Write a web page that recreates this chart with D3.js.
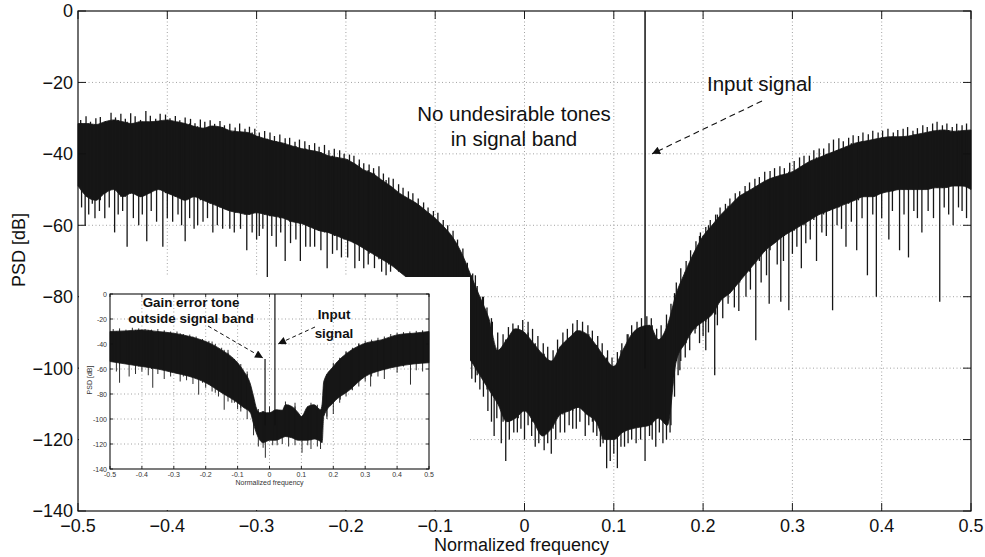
<!DOCTYPE html>
<html lang="en">
<head>
<meta charset="UTF-8" />
<title>PSD</title>
<script src="https://cdn.jsdelivr.net/npm/d3@7/dist/d3.min.js"></script>
<style>
  body { margin: 0; background: #fff; }
  svg { display: block; font-family: "Liberation Sans", Arial, Helvetica, sans-serif; }
  .grid line { stroke: #8a8a8a; stroke-width: 0.8; stroke-dasharray: 1 2.5; }
</style>
</head>
<body>
<script>
// ---- main chart data (dB), frequency step 0.01 from -0.5 to 0.5
var freqStep = 0.01;
var upperDb = [
  -31.5,-31.5,-31.8,-31.0,-30.5,-31.0,-31.5,-31.0,-31.0,-30.8,
  -30.5,-31.0,-31.5,-32.3,-32.8,-32.2,-32.5,-33.5,-33.8,-34.0,
  -35.0,-35.8,-36.5,-37.0,-37.8,-38.5,-39.0,-39.5,-40.5,-41.0,
  -41.5,-42.8,-44.5,-45.5,-47.3,-49.0,-51.0,-52.5,-54.0,-56.0,
  -58.0,-60.5,-63.5,-68.0,-74.0,-80.0,-86.0,-95.0,-92.0,-89.0,
  -90.0,-93.0,-96.0,-98.0,-94.0,-91.5,-89.5,-90.5,-93.5,-97.0,
  -99.5,-95.0,-90.5,-88.5,-88.0,-92.0,-88.0,-79.0,-73.0,-67.5,
  -63.0,-60.0,-57.0,-54.5,-52.0,-50.5,-49.0,-47.5,-46.5,-45.8,
  -45.0,-43.5,-42.0,-41.0,-40.0,-39.0,-38.0,-37.0,-36.5,-36.0,
  -35.5,-35.2,-35.2,-35.0,-34.5,-34.0,-33.5,-33.3,-33.7,-33.5,
  -33.3
];
var lowerDb = [
  -49,-52,-53,-51,-50,-52,-51,-52,-51,-50,
  -51,-52,-53,-52,-53,-54,-55,-56,-56.5,-57,
  -56.5,-57,-57.5,-58,-59,-59.5,-60.5,-61.5,-62,-63,
  -64,-65,-66.5,-68,-69.5,-71,-73,-75,-77,-79,
  -81,-84,-87,-95,-98,-102,-106,-110,-115,-114,
  -112,-115,-119,-117,-113,-112,-111,-113,-115,-120,
  -120,-118,-117,-116.5,-116,-114,-116,-98,-93,-89,
  -87,-85,-81,-79,-76,-73,-70,-67,-65,-63,
  -61.5,-60,-58.5,-57,-56,-55,-54,-53,-52,-52,
  -51,-50.5,-50,-50,-50,-50,-49.5,-49.5,-49,-49,
  -50
];
// downward spikes below the dense band [freq, dB]
var downSpikes = [
  [-0.496,-55],[-0.492,-60],[-0.488,-57],[-0.484,-54],[-0.481,-58],[-0.476,-56],[-0.470,-58],
  [-0.465,-55],[-0.459,-62],[-0.455,-57],[-0.450,-56],[-0.445,-66],[-0.438,-58],[-0.432,-60],
  [-0.428,-57],[-0.423,-64.5],[-0.418,-56],[-0.412,-59],[-0.405,-66],[-0.400,-58],[-0.394,-59],
  [-0.388,-57],[-0.384,-60],[-0.380,-64.5],[-0.375,-58],[-0.370,-61],[-0.366,-60],[-0.360,-59],
  [-0.355,-58],[-0.349,-62],[-0.344,-60],[-0.338,-61],[-0.330,-61],[-0.325,-62],[-0.318,-61],
  [-0.311,-67],[-0.305,-62],[-0.300,-64],[-0.297,-63],[-0.293,-61],[-0.288,-74.5],[-0.283,-63],
  [-0.278,-66],[-0.273,-62],[-0.268,-70],[-0.262,-65],[-0.256,-64],[-0.251,-70],[-0.245,-66],
  [-0.240,-66],[-0.235,-66],[-0.228,-67],[-0.221,-72],[-0.215,-68],[-0.210,-67],[-0.205,-69],
  [-0.198,-69],[-0.190,-72],[-0.185,-70],[-0.180,-72],[-0.175,-71],[-0.168,-72],[-0.160,-73],
  [-0.155,-74],[-0.150,-73],
  [-0.063,-106],[-0.059,-103],[-0.055,-104],[-0.050,-106],[-0.046,-108],[-0.041,-112],
  [-0.037,-115],[-0.034,-119],[-0.031,-114],[-0.026,-121],[-0.021,-126],[-0.017,-120],
  [-0.012,-118],[-0.008,-118],[-0.004,-117],[0.0,-120],[0.004,-116],[0.008,-119],[0.012,-122],
  [0.016,-121],[0.022,-123],[0.026,-121],[0.030,-124],[0.035,-120],[0.040,-118],[0.045,-118],
  [0.050,-116],[0.054,-117],[0.058,-117],[0.062,-115],[0.068,-119],[0.072,-116],[0.077,-118],
  [0.081,-119],[0.085,-122],[0.088,-121],[0.092,-128],[0.096,-126],[0.100,-124],[0.104,-128],
  [0.108,-122],[0.112,-122],[0.116,-121],[0.120,-120],[0.125,-121],[0.130,-120],[0.135,-126],
  [0.140,-119],[0.143,-120],[0.147,-122],[0.151,-118],[0.155,-121],[0.159,-120],[0.163,-118],
  [0.168,-108],[0.172,-102],[0.174,-100.6],[0.180,-97],[0.185,-95],[0.191,-90.3],[0.196,-93],
  [0.200,-91],[0.203,-95],[0.206,-90],[0.213,-102],[0.216,-88],[0.222,-86],[0.228,-82],
  [0.235,-83],[0.240,-84],[0.248,-80],[0.253,-78],[0.259,-92.2],[0.265,-76],[0.271,-74],
  [0.274,-82],[0.283,-71],[0.287,-81.4],[0.290,-70],[0.296,-83.8],[0.300,-68],[0.305,-66],
  [0.310,-72],[0.315,-65],[0.320,-64],[0.327,-70],[0.333,-62],[0.338,-63],[0.345,-83.8],
  [0.350,-60],[0.355,-61],[0.360,-66],[0.366,-59],[0.372,-67],[0.378,-58],[0.384,-74],
  [0.390,-57],[0.394,-80],[0.400,-58],[0.408,-64],[0.412,-56],[0.420,-67],[0.425,-57],
  [0.430,-69],[0.436,-56],[0.440,-58],[0.445,-62],[0.452,-56],[0.458,-58],[0.465,-81.4],
  [0.470,-55],[0.475,-57],[0.480,-60],[0.486,-55],[0.490,-56],[0.495,-58]
];
// peaks above the dense band [freq, dB]
var upSpikes = [
  [-0.497,-30.5],[-0.491,-29.5],[-0.486,-31],[-0.480,-30],[-0.475,-29.7],[-0.469,-30.8],
  [-0.463,-28.5],[-0.458,-29.8],[-0.452,-28.8],[-0.447,-30.2],[-0.441,-28.6],[-0.436,-29.5],
  [-0.430,-30.5],[-0.424,-28.0],[-0.419,-29.3],[-0.413,-30.2],[-0.408,-28.8],[-0.402,-29.0],
  [-0.397,-30.0],[-0.391,-29.4],[-0.386,-30.6],[-0.380,-29.8],[-0.374,-30.2],[-0.369,-31.4],
  [-0.363,-30.4],[-0.358,-31.0],[-0.352,-30.6],[-0.347,-31.6],[-0.341,-30.8],[-0.336,-32.0],
  [-0.330,-31.6],[-0.324,-32.6],[-0.319,-31.5],[-0.313,-33.0],[-0.308,-32.4],[-0.302,-33.0],
  [-0.297,-34.0],[-0.291,-33.6],[-0.285,-34.0],[-0.280,-35.0],[-0.274,-34.6],[-0.268,-35.6],
  [-0.263,-35.5],[-0.257,-36.6],[-0.252,-36.0],[-0.246,-36.5],[-0.241,-37.5],[-0.235,-37.0],
  [-0.230,-38.0],[-0.224,-37.5],[-0.219,-39.0],[-0.213,-38.6],[-0.207,-39.0],[-0.202,-40.0],
  [-0.196,-40.2],[-0.191,-40.5],[-0.185,-41.6],[-0.180,-42.6],[-0.174,-43.0],[-0.169,-44.0],
  [-0.163,-43.5],[-0.158,-45.5],[-0.152,-46.6],[-0.147,-47.0],[-0.141,-48.5],[-0.136,-49.5],
  [-0.130,-50.5],[-0.125,-51.0],[-0.119,-52.5],[-0.113,-53.6],[-0.108,-55.0],[-0.102,-56.0],
  [-0.097,-56.5],[-0.091,-58.5],[-0.086,-60.0],[-0.080,-61.5],[-0.075,-64.0],[-0.069,-66.5],
  [-0.064,-70.5],[-0.058,-73.5],[-0.053,-77.0],[-0.047,-80.0],[-0.042,-83.0],
  [-0.036,-87],[-0.030,-90],[-0.024,-90.5],[-0.018,-88.5],[-0.013,-87.5],[-0.007,-88],
  [-0.002,-86.5],[0.004,-87],[0.009,-89],[0.015,-91],[0.021,-93],[0.026,-94],[0.032,-95],
  [0.037,-92],[0.043,-90],[0.048,-89],[0.054,-87.5],[0.059,-86.5],[0.065,-87],[0.071,-88],
  [0.076,-89.5],[0.082,-91],[0.087,-93],[0.093,-95],[0.098,-97],[0.104,-95.5],[0.109,-93],
  [0.115,-90.5],[0.120,-88],[0.126,-87],[0.131,-86],[0.137,-85.5],[0.142,-86],[0.148,-89],
  [0.153,-88],[0.159,-85],[0.164,-82],
  [0.170,-76],[0.175,-72],[0.181,-70],[0.186,-67],[0.192,-64.5],[0.197,-62],[0.203,-60.5],
  [0.208,-58.5],[0.214,-57],[0.219,-55],[0.225,-54],[0.230,-52.5],[0.236,-51],[0.241,-50.5],
  [0.247,-49],[0.252,-48],[0.258,-47],[0.263,-46.5],[0.269,-45],[0.275,-44.8],[0.280,-44],
  [0.286,-43.5],[0.291,-44],[0.297,-42.5],[0.302,-42],[0.308,-41],[0.313,-40.5],[0.319,-40.5],
  [0.324,-39],[0.330,-38.5],[0.335,-38.5],[0.341,-37],[0.346,-36],[0.352,-35.6],[0.357,-36.5],
  [0.363,-35.5],[0.368,-34.8],[0.374,-35],[0.379,-34],[0.385,-34.5],[0.390,-33.5],[0.396,-34],
  [0.401,-33.5],[0.407,-33],[0.413,-34],[0.418,-33.3],[0.424,-33],[0.429,-32.5],[0.435,-33.5],
  [0.440,-32.8],[0.446,-32],[0.451,-32.5],[0.457,-31.5],[0.462,-31],[0.468,-32],[0.473,-31.5],
  [0.479,-32.5],[0.484,-31.6],[0.490,-32],[0.495,-31.5]
];
var inputTone = { f: 0.135, top: 0, bottom: -100 };

var xTicks = [-0.5,-0.4,-0.3,-0.2,-0.1,0,0.1,0.2,0.3,0.4,0.5];
var xTickLabels = ["\u22120.5","\u22120.4","\u22120.3","\u22120.2","\u22120.1","0","0.1","0.2","0.3","0.4","0.5"];
var yTicks = [0,-20,-40,-60,-80,-100,-120,-140];
var yTickLabels = ["0","\u221220","\u221240","\u221260","\u221280","\u2212100","\u2212120","\u2212140"];

// ---- inset data
var insetFreq  = [-0.5,-0.45,-0.4,-0.35,-0.3,-0.25,-0.2,-0.15,-0.1,-0.08,-0.06,-0.05,-0.04,-0.03,-0.02,-0.01,0,0.02,0.04,0.05,0.07,0.09,0.1,0.12,0.14,0.16,0.165,0.17,0.2,0.25,0.3,0.35,0.4,0.45,0.5];
var insetUpper = [-30,-29.5,-28.7,-30,-31.4,-34,-38,-44.7,-55,-62,-72,-82,-92,-95,-94,-95,-95,-92.6,-93,-88.6,-90,-95,-98,-90,-88.6,-92.6,-88,-70,-58,-46,-39.4,-36.7,-32.7,-31.4,-30];
var insetLower = [-54,-56,-58,-60,-63,-66,-71,-79,-87,-91,-95,-104,-112,-117,-119,-118,-117,-117,-115,-114,-115,-117,-117,-117,-116,-118,-119,-98,-87,-77,-66,-61,-58,-56,-55];
var insetDown = [
  [-0.48,-62],[-0.47,-71],[-0.44,-66],[-0.42,-64],[-0.40,-62],[-0.38,-65],[-0.366,-75],
  [-0.35,-64],[-0.33,-68],[-0.31,-66],[-0.28,-70],[-0.26,-69],[-0.24,-72],[-0.222,-80.5],
  [-0.20,-75],[-0.18,-78],[-0.16,-82],[-0.142,-92.6],[-0.13,-86],[-0.118,-87],[-0.10,-92],
  [-0.09,-94],[-0.07,-100],[-0.05,-113],[-0.035,-122],[-0.02,-123],[-0.013,-131],[0.01,-121],
  [0.024,-121],[0.04,-120],[0.06,-122],[0.08,-121],[0.102,-127],[0.12,-121],[0.13,-124],
  [0.15,-122],[0.16,-124],[0.18,-100],[0.20,-96],[0.222,-84.5],[0.24,-82],[0.256,-76.5],
  [0.28,-74],[0.30,-70],[0.317,-74],[0.34,-66],[0.36,-68],[0.40,-63],[0.442,-72.5],
  [0.46,-61],[0.48,-62]
];
var insetUp = [
  [-0.49,-28],[-0.47,-27.5],[-0.45,-28.5],[-0.43,-27],[-0.41,-27.5],[-0.39,-28],[-0.37,-28.5],
  [-0.35,-28],[-0.33,-29],[-0.31,-30],[-0.29,-30],[-0.27,-32],[-0.25,-32.5],[-0.23,-34],
  [-0.21,-36],[-0.19,-37.5],[-0.17,-40],[-0.15,-43],[-0.13,-47],[-0.11,-52],[-0.09,-56],
  [-0.07,-64],[0.0,-90],[0.05,-86],[0.08,-87],[0.13,-87],[0.18,-64],[0.20,-55],[0.22,-51],
  [0.24,-46],[0.26,-43],[0.28,-40],[0.30,-37.5],[0.32,-36.5],[0.34,-35],[0.36,-34],
  [0.38,-32],[0.40,-31],[0.42,-30.5],[0.44,-30],[0.46,-29.5],[0.48,-29]
];
var insetGainTone = { f: -0.014, top: -52, bottom: -105 };
var insetInputTone = { f: 0.017, top: 0, bottom: -105 };
var insetYTickLabels = ["0","-20","-40","-60","-80","-100","-120","-140"];
var insetXTickLabels = ["-0.5","-0.4","-0.3","-0.2","-0.1","0","0.1","0.2","0.3","0.4","0.5"];

var w = 985, h = 557;
var svg = d3.select("body").append("svg").attr("width", w).attr("height", h);

var defs = svg.append("defs");
defs.append("marker").attr("id", "arr").attr("viewBox", "0 0 10 10")
  .attr("refX", 10).attr("refY", 5).attr("markerWidth", 11).attr("markerHeight", 8)
  .attr("markerUnits", "userSpaceOnUse").attr("orient", "auto")
  .append("path").attr("d", "M0,0 L10,5 L0,10 z").attr("fill", "#111");
defs.append("marker").attr("id", "arrs").attr("viewBox", "0 0 10 10")
  .attr("refX", 10).attr("refY", 5).attr("markerWidth", 10).attr("markerHeight", 8)
  .attr("markerUnits", "userSpaceOnUse").attr("orient", "auto")
  .append("path").attr("d", "M0,0 L10,5 L0,10 z").attr("fill", "#111");

var ink = "#161616";

function drawPanel(g, o) {
  var x = d3.scaleLinear().domain([-0.5, 0.5]).range([o.left, o.right]);
  var y = d3.scaleLinear().domain([-140, 0]).range([o.bottom, o.top]);

  // grid
  var grid = g.append("g").attr("class", "grid");
  grid.selectAll("line.gx").data(xTicks.slice(1, -1)).enter().append("line")
    .attr("x1", function(d) { return x(d); }).attr("x2", function(d) { return x(d); })
    .attr("y1", o.top).attr("y2", o.bottom);
  grid.selectAll("line.gy").data(yTicks.slice(1, -1)).enter().append("line")
    .attr("x1", o.left).attr("x2", o.right)
    .attr("y1", function(d) { return y(d); }).attr("y2", function(d) { return y(d); });

  // dense band
  var band = o.freqs.map(function(f, i) { return { f: f, hi: o.upper[i], lo: o.lower[i] }; });
  g.append("path").datum(band)
    .attr("fill", ink).attr("stroke", ink).attr("stroke-width", 0.8)
    .attr("d", d3.area().curve(d3.curveMonotoneX).x(function(d) { return x(d.f); })
      .y0(function(d) { return y(d.lo); }).y1(function(d) { return y(d.hi); }));

  function nearest(f, arr) {
    var best = 0;
    o.freqs.forEach(function(v, i) { if (Math.abs(v - f) < Math.abs(o.freqs[best] - f)) best = i; });
    return arr[best];
  }
  g.selectAll("line.dn").data(o.down).enter().append("line")
    .attr("stroke", ink).attr("stroke-width", o.sw)
    .attr("x1", function(d) { return x(d[0]); }).attr("x2", function(d) { return x(d[0]); })
    .attr("y1", function(d) { return y(d[1]); })
    .attr("y2", function(d) { return y(nearest(d[0], o.upper)); });
  g.selectAll("line.up").data(o.up).enter().append("line")
    .attr("stroke", ink).attr("stroke-width", o.sw)
    .attr("x1", function(d) { return x(d[0]); }).attr("x2", function(d) { return x(d[0]); })
    .attr("y1", function(d) { return y(d[1]); })
    .attr("y2", function(d) { return y(nearest(d[0], o.lower)); });

  // tones
  o.tones.forEach(function(t) {
    g.append("line").attr("stroke", "#111").attr("stroke-width", o.toneW)
      .attr("x1", x(t.f)).attr("x2", x(t.f)).attr("y1", y(t.top)).attr("y2", y(t.bottom));
  });

  // box and inward ticks
  g.append("rect").attr("x", o.left).attr("y", o.top)
    .attr("width", o.right - o.left).attr("height", o.bottom - o.top)
    .attr("fill", "none").attr("stroke", "#111").attr("stroke-width", o.boxW);
  xTicks.forEach(function(t) {
    g.append("line").attr("stroke", "#111").attr("stroke-width", o.boxW * 0.8)
      .attr("x1", x(t)).attr("x2", x(t)).attr("y1", o.bottom).attr("y2", o.bottom - o.tick);
    g.append("line").attr("stroke", "#111").attr("stroke-width", o.boxW * 0.8)
      .attr("x1", x(t)).attr("x2", x(t)).attr("y1", o.top).attr("y2", o.top + o.tick);
  });
  yTicks.forEach(function(t) {
    g.append("line").attr("stroke", "#111").attr("stroke-width", o.boxW * 0.8)
      .attr("x1", o.left).attr("x2", o.left + o.tick).attr("y1", y(t)).attr("y2", y(t));
    g.append("line").attr("stroke", "#111").attr("stroke-width", o.boxW * 0.8)
      .attr("x1", o.right).attr("x2", o.right - o.tick).attr("y1", y(t)).attr("y2", y(t));
  });

  // tick labels
  g.selectAll("text.xl").data(xTicks).enter().append("text")
    .attr("x", function(d) { return x(d); }).attr("y", o.bottom + o.xLabDy)
    .attr("text-anchor", "middle").attr("font-size", o.fs).attr("fill", o.txt)
    .text(function(d, i) { return o.xLabels[i]; });
  g.selectAll("text.yl").data(yTicks).enter().append("text")
    .attr("x", o.left - o.yLabDx).attr("y", function(d) { return y(d); })
    .attr("dy", "0.36em").attr("text-anchor", "end").attr("font-size", o.fs).attr("fill", o.txt)
    .text(function(d, i) { return o.yLabels[i]; });

  g.append("text").attr("x", (o.left + o.right) / 2 - o.titleShift).attr("y", o.bottom + o.xTitleDy)
    .attr("text-anchor", "middle").attr("font-size", o.fs).attr("fill", o.txt)
    .text("Normalized frequency");
  g.append("text")
    .attr("transform", "translate(" + (o.left - o.yTitleDx) + "," + o.yTitleY + ") rotate(-90)")
    .attr("text-anchor", "middle").attr("font-size", o.fs).attr("fill", o.txt)
    .text("PSD [dB]");
  return { x: x, y: y };
}

var mainFreqs = upperDb.map(function(d, i) { return -0.5 + i * freqStep; });

var main = drawPanel(svg.append("g"), {
  left: 78, right: 971, top: 11, bottom: 511,
  freqs: mainFreqs, upper: upperDb, lower: lowerDb, down: downSpikes, up: upSpikes,
  tones: [inputTone], toneW: 1.5, sw: 1.3, boxW: 1.2, tick: 8,
  xLabels: xTickLabels, yLabels: yTickLabels,
  fs: 18, txt: "#111", xLabDy: 21, yLabDx: 5, xTitleDy: 40, yTitleDx: 53, yTitleY: 250, titleShift: 3
});

// main annotations
svg.append("text").attr("x", 514).attr("y", 121).attr("text-anchor", "middle")
  .attr("font-size", 20.5).attr("fill", "#111").text("No undesirable tones");
svg.append("text").attr("x", 514).attr("y", 146).attr("text-anchor", "middle")
  .attr("font-size", 20.5).attr("fill", "#111").text("in signal band");
svg.append("text").attr("x", 707).attr("y", 91).attr("font-size", 20.5).attr("fill", "#111")
  .text("Input signal");
svg.append("line").attr("x1", 762).attr("y1", 101).attr("x2", main.x(inputTone.f) + 7).attr("y2", main.y(-40))
  .attr("stroke", "#111").attr("stroke-width", 1.1).attr("stroke-dasharray", "6 4")
  .attr("marker-end", "url(#arr)");

// ---- inset
svg.append("rect").attr("x", 79).attr("y", 277).attr("width", 391).attr("height", 233).attr("fill", "#fff");

var inset = drawPanel(svg.append("g"), {
  left: 110, right: 429, top: 294, bottom: 469,
  freqs: insetFreq, upper: insetUpper, lower: insetLower, down: insetDown, up: insetUp,
  tones: [insetGainTone, insetInputTone], toneW: 1.2, sw: 0.9, boxW: 1.1, tick: 3,
  xLabels: insetXTickLabels, yLabels: insetYTickLabels,
  fs: 7, txt: "#333", xLabDy: 8, yLabDx: 3, xTitleDy: 16, yTitleDx: 18, yTitleY: 380, titleShift: 0
});

svg.append("text").attr("x", 191).attr("y", 307).attr("text-anchor", "middle")
  .attr("font-size", 13.4).attr("font-weight", "bold").attr("fill", "#111").text("Gain error tone");
svg.append("text").attr("x", 191).attr("y", 323).attr("text-anchor", "middle")
  .attr("font-size", 13.4).attr("font-weight", "bold").attr("fill", "#111").text("outside signal band");
svg.append("text").attr("x", 334).attr("y", 319).attr("text-anchor", "middle")
  .attr("font-size", 13.4).attr("font-weight", "bold").attr("fill", "#111").text("Input");
svg.append("text").attr("x", 334).attr("y", 338).attr("text-anchor", "middle")
  .attr("font-size", 13.4).attr("font-weight", "bold").attr("fill", "#111").text("signal");
svg.append("line").attr("x1", 208).attr("y1", 326).attr("x2", inset.x(insetGainTone.f) - 2).attr("y2", inset.y(insetGainTone.top) - 1)
  .attr("stroke", "#111").attr("stroke-width", 1).attr("stroke-dasharray", "4 3")
  .attr("marker-end", "url(#arrs)");
svg.append("line").attr("x1", 315).attr("y1", 327).attr("x2", inset.x(insetInputTone.f) + 3).attr("y2", 344)
  .attr("stroke", "#111").attr("stroke-width", 1).attr("stroke-dasharray", "4 3")
  .attr("marker-end", "url(#arrs)");
</script>
</body>
</html>
